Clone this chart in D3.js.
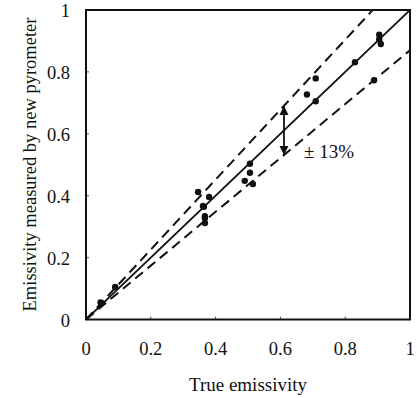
<!DOCTYPE html>
<html>
<head>
<meta charset="utf-8">
<script src="https://cdn.jsdelivr.net/npm/d3@7"></script>
<style>
  body { margin: 0; background: #fff; }
  text { font-family: "Liberation Serif", "DejaVu Serif", serif; fill: #111; }
</style>
</head>
<body>
<div id="chart"></div>
<script>
// measured points (true, measured)
var trueVals = [0.905, 0.905, 0.91, 0.83, 0.889, 0.709, 0.682, 0.709,
  0.506, 0.506, 0.49, 0.515, 0.346, 0.38, 0.361, 0.364, 0.367, 0.367, 0.367, 0.09, 0.045]
var measVals = [0.92, 0.905, 0.89, 0.831, 0.773, 0.779, 0.727, 0.705,
  0.503, 0.474, 0.448, 0.438, 0.412, 0.396, 0.367, 0.364, 0.334, 0.328, 0.312, 0.105, 0.055]
var ticks = [0, 0.2, 0.4, 0.6, 0.8, 1]
var bandPct = 0.13

var W = 417, H = 398
var m = {left: 86, top: 10, right: 7, bottom: 78.5}

var svg = d3.select('#chart').append('svg')
  .attr('width', W).attr('height', H)

var x = d3.scaleLinear().domain([0, 1]).range([m.left, W - m.right])
var y = d3.scaleLinear().domain([0, 1]).range([H - m.bottom, m.top])

// inward ticks
svg.selectAll('line.xt').data(ticks.slice(1, -1)).join('line')
  .attr('x1', d => x(d)).attr('x2', d => x(d))
  .attr('y1', y(0)).attr('y2', y(0) - 3)
  .attr('stroke', '#555').attr('stroke-width', 1)
svg.selectAll('line.yt').data(ticks.slice(1, -1)).join('line')
  .attr('y1', d => y(d)).attr('y2', d => y(d))
  .attr('x1', x(0)).attr('x2', x(0) + 3)
  .attr('stroke', '#555').attr('stroke-width', 1)

// tick labels
svg.selectAll('text.xl').data(ticks).join('text')
  .attr('x', d => x(d)).attr('y', y(0) + 35.5)
  .attr('text-anchor', 'middle').attr('font-size', 18.5)
  .text(d => d3.format('~g')(d))
svg.selectAll('text.yl').data(ticks).join('text')
  .attr('x', x(0) - 16).attr('y', d => y(d) + 7)
  .attr('text-anchor', 'end').attr('font-size', 18.5)
  .text(d => d3.format('~g')(d))

// axis titles
svg.append('text')
  .attr('x', 248).attr('y', 391)
  .attr('text-anchor', 'middle').attr('font-size', 19)
  .text('True emissivity')
svg.append('text')
  .attr('transform', 'translate(36,164.5) rotate(-90)')
  .attr('text-anchor', 'middle').attr('font-size', 18.5)
  .text('Emissivity measured by new pyrometer')

var clip = svg.append('clipPath').attr('id', 'c').append('rect')
  .attr('x', x(0)).attr('y', y(1)).attr('width', x(1) - x(0)).attr('height', y(0) - y(1))

var g = svg.append('g').attr('clip-path', 'url(#c)')

// 1:1 line and ±13% band
g.append('line')
  .attr('x1', x(0)).attr('y1', y(0)).attr('x2', x(1)).attr('y2', y(1))
  .attr('stroke', '#111').attr('stroke-width', 1.8)
;[1 + bandPct, 1 - bandPct].forEach(k => {
  g.append('line')
    .attr('x1', x(0)).attr('y1', y(0)).attr('x2', x(1)).attr('y2', y(k))
    .attr('stroke', '#111').attr('stroke-width', 2)
    .attr('stroke-dasharray', '10,6')
})

// points
g.selectAll('circle').data(trueVals).join('circle')
  .attr('cx', d => x(d)).attr('cy', (d, i) => y(measVals[i]))
  .attr('r', 3.2).attr('fill', '#111')

// double arrow
var ax = 0.611
var defs = svg.append('defs')
defs.append('marker').attr('id', 'ah').attr('viewBox', '0 0 10 10')
  .attr('refX', 9).attr('refY', 5).attr('markerWidth', 5).attr('markerHeight', 6)
  .attr('orient', 'auto-start-reverse')
  .append('path').attr('d', 'M0,0L10,5L0,10z').attr('fill', '#111')
svg.append('line')
  .attr('x1', x(ax)).attr('x2', x(ax))
  .attr('y1', y(ax * (1 + bandPct)) + 1).attr('y2', y(ax * (1 - bandPct)) - 1)
  .attr('stroke', '#111').attr('stroke-width', 1.8)
  .attr('marker-start', 'url(#ah)').attr('marker-end', 'url(#ah)')
svg.append('text')
  .attr('x', 304).attr('y', 158)
  .attr('font-size', 19)
  .text('\u00b1 13%')

// frame
svg.append('rect')
  .attr('x', x(0)).attr('y', y(1)).attr('width', x(1) - x(0)).attr('height', y(0) - y(1))
  .attr('fill', 'none').attr('stroke', '#111').attr('stroke-width', 2)
</script>
</body>
</html>
